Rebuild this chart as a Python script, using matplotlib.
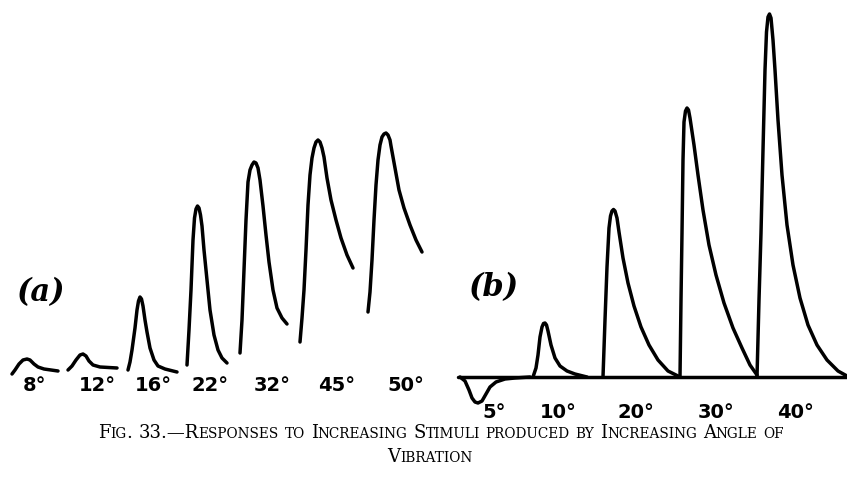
import matplotlib
matplotlib.use("Agg")
import matplotlib.pyplot as plt

# ---- traced responses (reference pixel coords) ----
# panel (a): one record per stimulus angle
a_labels = ["8°", "12°", "16°", "22°", "32°", "45°", "50°"]
a_label_x = [35, 97, 153, 210, 272, 337, 406]
a_x = [
    [12, 15, 19, 23, 27, 30, 34, 38, 44, 58],
    [68, 72, 76, 80, 83, 86, 89, 93, 100, 117],
    [128, 130, 132, 135, 137, 138.5, 140, 141.5, 143, 145, 147, 150, 154, 158, 165, 177],
    [187, 189, 191, 193, 194.5, 196, 197.5, 199, 200.5, 202, 204, 207, 210, 214, 218, 222, 227],
    [240, 242, 244, 246, 248, 250, 252, 254, 256, 258, 260, 263, 266, 269, 273, 277, 282, 287],
    [300, 302, 304, 306, 308, 310, 312, 314, 316, 318, 320, 322, 324, 327, 331, 336, 341, 347, 353],
    [368, 370, 372, 374, 376, 378, 380, 382, 384, 386, 388, 390, 391, 395, 399, 404, 410, 416, 422],
]
a_y = [
    [374, 370, 364, 360, 359, 360, 364, 367, 369, 371],
    [370, 366, 360, 355, 354, 356, 361, 365, 367, 368],
    [370, 362, 350, 328, 310, 301, 297, 299, 306, 320, 332, 348, 360, 366, 369, 372],
    [365, 330, 290, 240, 218, 209, 206, 208, 215, 226, 250, 280, 310, 335, 350, 358, 363],
    [353, 320, 270, 220, 182, 170, 165, 162, 163, 168, 180, 206, 235, 262, 290, 308, 318, 324],
    [342, 318, 290, 250, 205, 175, 158, 148, 142, 140, 142, 148, 157, 178, 200, 220, 238, 255, 268],
    [312, 292, 260, 220, 185, 160, 145, 137, 134, 133, 135, 140, 146, 168, 190, 208, 225, 240, 252],
]

# panel (b): common baseline, dip at 5 deg then rising peaks
b_labels = ["5°", "10°", "20°", "30°", "40°"]
b_label_x = [494, 558, 636, 716, 795]
b_base_x = [458, 847]
b_base_y = [377, 377]
b_x = [
    [460, 465, 469, 472, 475, 478, 482, 486, 490, 496, 505, 515, 530],
    [533, 536, 538, 540, 542, 543.5, 545, 546.5, 548, 551, 555, 560, 567, 575, 587],
    [603, 605, 607, 609, 610.5, 612, 613.5, 615, 617, 619, 623, 628, 634, 641, 649, 658, 668, 680],
    [680, 681, 682, 683, 684, 685.5, 687, 688.5, 690, 694, 698, 703, 709, 716, 724, 733, 742,
     750, 757],
    [757, 759, 761, 763, 765, 766.5, 768, 769.5, 771, 773, 775, 778, 782, 787, 793, 800, 808,
     817, 827, 838, 847],
]
b_y = [
    [377, 381, 390, 398, 402, 403, 401, 394, 387, 382, 379, 378, 377],
    [377, 368, 355, 337, 327, 323.5, 323, 325, 331, 345, 358, 366, 371, 374, 377],
    [377, 320, 267, 228, 216, 211, 209.5, 211, 218, 232, 258, 283, 306, 327, 345, 360, 371, 377],
    [377, 300, 233, 160, 122, 111, 108, 110, 118, 145, 175, 210, 245, 275, 303, 328, 348,
     365, 375],
    [377, 300, 233, 150, 70, 32, 17, 14, 18, 40, 70, 120, 175, 225, 265, 298, 325, 345, 360,
     371, 376],
]

caption_lines = [
    "Fig. 33.—Responses to Increasing Stimuli produced by Increasing Angle of",
    "Vibration",
]
caption_center_x = [441, 430]

W, H = 847, 479
fig = plt.figure(figsize=(W / 100, H / 100), dpi=100)
ax = fig.add_axes([0, 0, 1, 1])
ax.set_xlim(0, W)
ax.set_ylim(H, 0)
ax.axis("off")

line_kw = dict(color="black", lw=2.5, solid_joinstyle="round", solid_capstyle="round")
label_kw = dict(family="DejaVu Sans", weight="bold", fontsize=14, ha="center",
                va="baseline")

for xs, ys in zip(a_x, a_y):
    ax.plot(xs, ys, **line_kw)
for lab, lx in zip(a_labels, a_label_x):
    ax.text(lx, 391, lab, **label_kw)

ax.plot(b_base_x, b_base_y, **line_kw)
for xs, ys in zip(b_x, b_y):
    ax.plot(xs, ys, **line_kw)
for lab, lx in zip(b_labels, b_label_x):
    ax.text(lx, 418, lab, **label_kw)

ax.text(40, 293, "(a)", family="DejaVu Serif", style="italic", weight="bold",
        fontsize=22, ha="center", va="center")
ax.text(493, 288, "(b)", family="DejaVu Serif", style="italic", weight="bold",
        fontsize=22, ha="center", va="center")

# ---- small-caps caption, drawn run by run ----
renderer = fig.canvas.get_renderer()
big, small = 13, 9.8


def runs_of(word):
    out = []
    for ch in word:
        size = small if ch.islower() else big
        c = ch.upper()
        if out and out[-1][1] == size:
            out[-1][0] += c
        else:
            out.append([c, size])
    return out


def width_of(s, size):
    t = ax.text(0, 0, s, family="DejaVu Serif", fontsize=size)
    w = t.get_window_extent(renderer).width
    t.remove()
    return w


space = width_of("x x", big) - width_of("xx", big)
for line, base, cx in zip(caption_lines, [438, 462], caption_center_x):
    words = [runs_of(w) for w in line.split(" ")]
    widths = [sum(width_of(s, sz) for s, sz in wd) for wd in words]
    total = sum(widths) + space * (len(words) - 1)
    x = cx - total / 2
    for wd, ww in zip(words, widths):
        for s, sz in wd:
            ax.text(x, base, s, family="DejaVu Serif", fontsize=sz, va="baseline")
            x += width_of(s, sz)
        x += space

fig.savefig("out.png", dpi=100)
